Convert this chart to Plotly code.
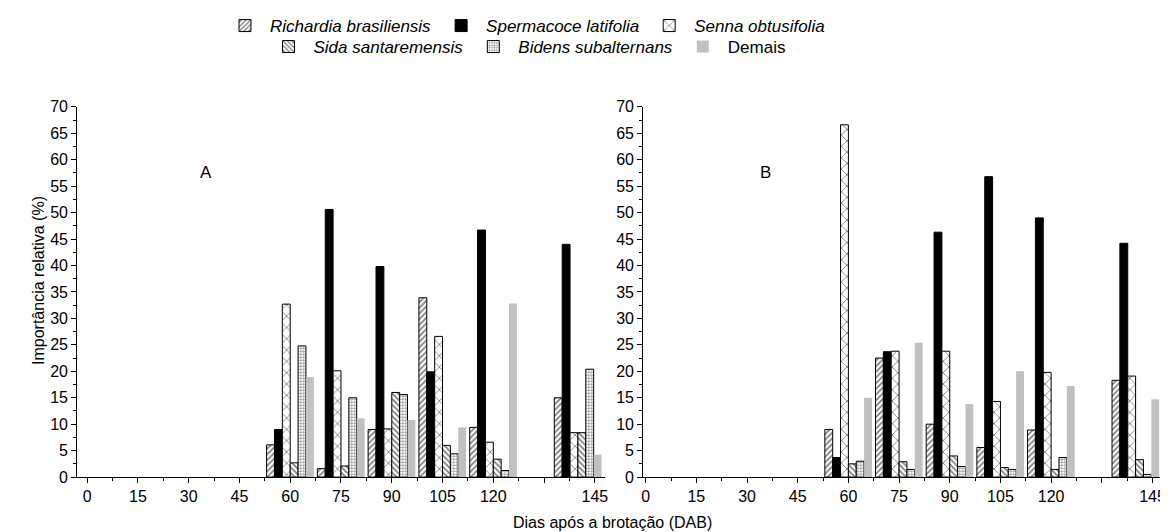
import plotly.graph_objects as go

days = [60, 75, 90, 105, 120, 145]
species = ["Richardia brasiliensis", "Spermacoce latifolia", "Senna obtusifolia",
           "Sida santaremensis", "Bidens subalternans", "Demais"]
italic = [True, True, True, True, True, False]
legend_row = ["legend", "legend", "legend", "legend2", "legend2", "legend2"]

# Panel A values (%)
a_richardia = [6.1, 1.6, 9.0, 33.9, 9.4, 15.0]
a_spermacoce = [9.0, 50.6, 39.8, 19.9, 46.7, 44.0]
a_senna = [32.7, 20.1, 9.1, 26.6, 6.6, 8.4]
a_sida = [2.7, 2.1, 16.0, 6.0, 3.4, 8.4]
a_bidens = [24.8, 15.0, 15.6, 4.4, 1.25, 20.4]
a_demais = [18.9, 11.1, 10.8, 9.4, 32.8, 4.25]

# Panel B values (%)
b_richardia = [9.0, 22.5, 10.0, 5.6, 8.9, 18.3]
b_spermacoce = [3.7, 23.7, 46.3, 56.8, 49.0, 44.2]
b_senna = [66.6, 23.8, 23.8, 14.3, 19.8, 19.1]
b_sida = [2.5, 2.9, 4.0, 1.8, 1.45, 3.3]
b_bidens = [3.0, 1.45, 2.0, 1.45, 3.7, 0.5]
b_demais = [15.0, 25.4, 13.8, 20.0, 17.2, 14.7]

panel_a = [a_richardia, a_spermacoce, a_senna, a_sida, a_bidens, a_demais]
panel_b = [b_richardia, b_spermacoce, b_senna, b_sida, b_bidens, b_demais]

x_tickvals = [0, 15, 30, 45, 60, 75, 90, 105, 120, 135, 150]
x_ticktext = ["0", "15", "30", "45", "60", "75", "90", "105", "120", "", "145"]
y_tickvals = list(range(0, 71, 5))

FONT = "Liberation Sans, Arial, sans-serif"
BLACK_LINE = dict(color="black", width=1)


def marker_for(i):
    if i == 0:
        return dict(color="white", line=BLACK_LINE,
                    pattern=dict(shape="/", fgcolor="black", bgcolor="white", size=4, solidity=0.45))
    if i == 1:
        return dict(color="black", line=BLACK_LINE)
    if i == 2:
        return dict(color="white", line=BLACK_LINE,
                    pattern=dict(shape="x", fgcolor="black", bgcolor="white", size=8, solidity=0.2))
    if i == 3:
        return dict(color="white", line=BLACK_LINE,
                    pattern=dict(shape="\\", fgcolor="black", bgcolor="white", size=4, solidity=0.45))
    if i == 4:
        return dict(color="white", line=BLACK_LINE,
                    pattern=dict(shape="+", fgcolor="black", bgcolor="white", size=3, solidity=0.35))
    return dict(color="#c0c0c0", line=dict(color="#c0c0c0", width=0))


fig = go.Figure()
for i, name in enumerate(species):
    label = f"<i>{name}</i>" if italic[i] else name
    fig.add_trace(go.Bar(x=days, y=panel_a[i], name=label, marker=marker_for(i),
                         xaxis="x", yaxis="y", legend=legend_row[i], showlegend=True))
for i, name in enumerate(species):
    label = f"<i>{name}</i>" if italic[i] else name
    fig.add_trace(go.Bar(x=days, y=panel_b[i], name=label, marker=marker_for(i),
                         xaxis="x2", yaxis="y2", showlegend=False))

# page body has an 8px margin, so the figure is 8px smaller and positions are offset by 8px
OFF = 8
W, H = 1168 - OFF, 532 - OFF


def px_x(v):
    return (v - OFF) / W


def px_y(v):
    return 1 - (v - OFF) / H


TICKFONT = dict(family=FONT, size=16, color="black")
ax_common = dict(showline=True, linecolor="black", linewidth=1.2, showgrid=False, zeroline=False,
                 ticks="outside", ticklen=5, tickwidth=1, tickcolor="black",
                 tickfont=TICKFONT, automargin=False)
xaxis_common = dict(ax_common, tickmode="array", tickvals=x_tickvals, ticktext=x_ticktext,
                    minor=dict(tickmode="linear", tick0=0, dtick=7.5, ticks="outside", ticklen=3,
                               tickcolor="black", tickwidth=1))
yaxis_common = dict(ax_common, range=[0, 70], tickmode="array", tickvals=y_tickvals,
                    minor=dict(tickmode="linear", tick0=0, dtick=2.5, ticks="outside", ticklen=3,
                               tickcolor="black", tickwidth=1))

y_bot = px_y(477)
y_top = px_y(106)

fig.update_layout(
    width=W, height=H,
    margin=dict(l=0, r=0, t=0, b=0),
    paper_bgcolor="white", plot_bgcolor="white",
    barmode="group", bargap=0.07, bargroupgap=0,
    font=dict(family=FONT, size=16, color="black"),
    xaxis=dict(xaxis_common, domain=[px_x(77.3), px_x(605)], range=[-2.9, 153], anchor="y"),
    yaxis=dict(yaxis_common, domain=[y_bot, y_top], anchor="x"),
    xaxis2=dict(xaxis_common, domain=[px_x(643.3), px_x(1166)], range=[-0.7, 154], anchor="y2"),
    yaxis2=dict(yaxis_common, domain=[y_bot, y_top], anchor="x2"),
    legend=dict(orientation="h", x=px_x(525), xanchor="center", y=px_y(25), yanchor="middle",
                font=dict(family=FONT, size=17), itemwidth=40, traceorder="normal",
                bgcolor="rgba(0,0,0,0)", tracegroupgap=0),
    legend2=dict(orientation="h", x=px_x(527), xanchor="center", y=px_y(47), yanchor="middle",
                 font=dict(family=FONT, size=17), itemwidth=40, traceorder="normal",
                 bgcolor="rgba(0,0,0,0)"),
    annotations=[
        dict(text="A", x=35, y=57.5, xref="x", yref="y", showarrow=False,
             font=dict(family=FONT, size=17)),
        dict(text="B", x=35.5, y=57.5, xref="x2", yref="y2", showarrow=False,
             font=dict(family=FONT, size=17)),
        dict(text="Importância relativa (%)", x=px_x(28), y=px_y(280),
             xref="paper", yref="paper", textangle=-90, showarrow=False,
             font=dict(family=FONT, size=16)),
        dict(text="Dias após a brotação (DAB)", x=px_x(612), y=px_y(532), yanchor="bottom",
             xref="paper", yref="paper", showarrow=False, font=dict(family=FONT, size=16),
             borderpad=0),
    ],
)

fig.write_html("out.html")
